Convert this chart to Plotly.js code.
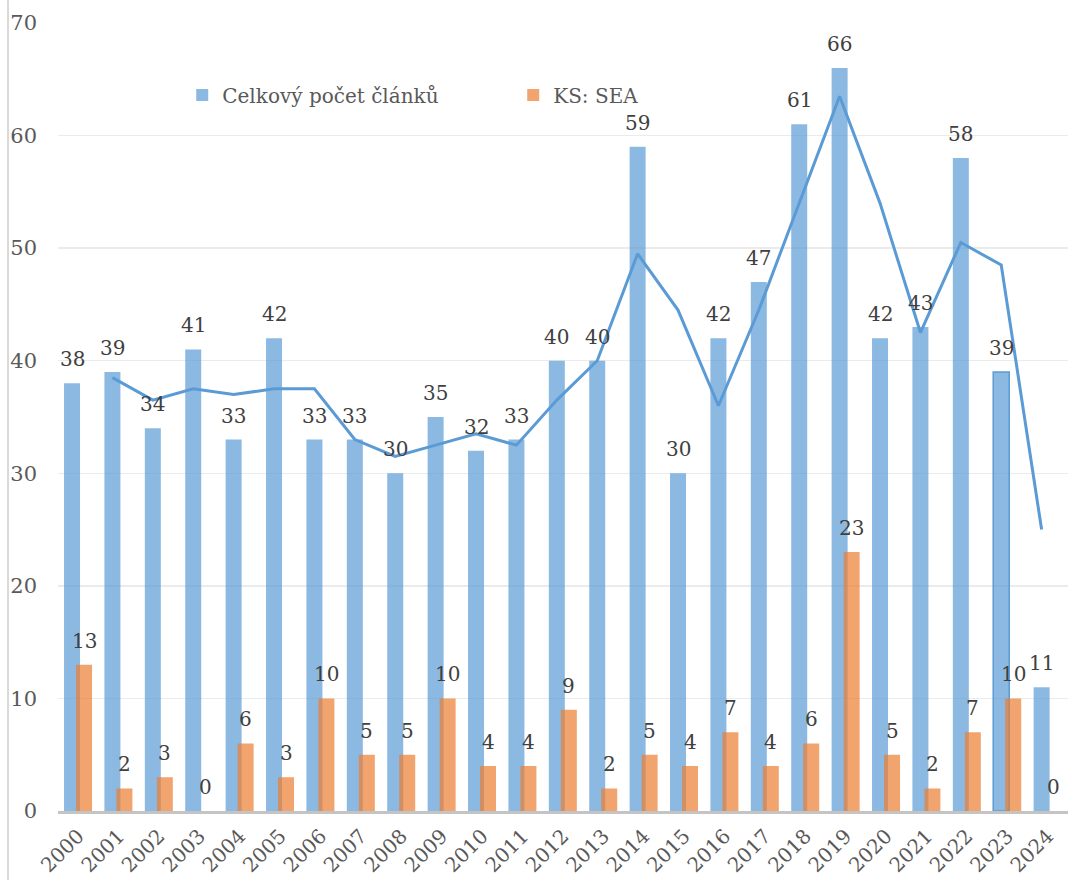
<!DOCTYPE html>
<html>
<head>
<meta charset="utf-8">
<script src="https://cdn.plot.ly/plotly-3.0.1.min.js"></script>
<style>html,body{margin:0;padding:0;background:#fff;}#chart{width:1068px;height:880px;}</style>
</head>
<body>
<div id="chart"></div>
<script>
const years = ['2000','2001','2002','2003','2004','2005','2006','2007','2008','2009','2010','2011','2012','2013','2014','2015','2016','2017','2018','2019','2020','2021','2022','2023','2024'];
const totalArticles = [38,39,34,41,33,42,33,33,30,35,32,33,40,40,59,30,42,47,61,66,42,43,58,39,11];
const ksSea = [13,2,3,0,6,3,10,5,5,10,4,4,9,2,5,4,7,4,6,23,5,2,7,10,0];
const trendLine = [null,38.5,36.5,37.5,37,37.5,37.5,33,31.5,32.5,33.5,32.5,36.5,40,49.5,44.5,36,44.5,54,63.5,54,42.5,50.5,48.5,25];
const seriesNames = ['Celkový počet článků','KS: SEA'];

const idx = years.map((y,i)=>i);
const BLUE_OFF = -0.351, ORANGE_OFF = -0.054, BW = 0.396;
const blueCenter = idx.map(i=>i+BLUE_OFF+BW/2);
const orangeCenter = idx.map(i=>i+ORANGE_OFF+BW/2);
const serif = 'DejaVu Serif';
const FS = 20;

const blueLineColors = idx.map(i=> years[i]==='2023' ? '#5b9bd5' : 'rgba(0,0,0,0)');
const blueLineWidths = idx.map(i=> years[i]==='2023' ? 1.5 : 0);

const traces = [
  {type:'bar', name:seriesNames[0], x:idx, y:totalArticles, width:BW, offset:BLUE_OFF,
   marker:{color:'rgba(91,155,213,0.7)', line:{color:blueLineColors, width:blueLineWidths}}, hoverinfo:'skip'},
  {type:'bar', name:seriesNames[1], x:idx, y:ksSea, width:BW, offset:ORANGE_OFF,
   marker:{color:'rgba(237,125,49,0.7)', line:{width:0}}, hoverinfo:'skip'},
  {type:'scatter', mode:'lines', x:blueCenter, y:trendLine, showlegend:false,
   line:{color:'#5b9bd5', width:3}, connectgaps:false, hoverinfo:'skip'}
];

const annotations = [];
idx.forEach(i=>{
  annotations.push({x:blueCenter[i], y:totalArticles[i], xref:'x', yref:'y', text:String(totalArticles[i]),
    showarrow:false, yanchor:'bottom', xanchor:'center', yshift:10, font:{family:serif, size:FS, color:'#404040'}});
  annotations.push({x:orangeCenter[i], y:ksSea[i], xref:'x', yref:'y', text:String(ksSea[i]),
    showarrow:false, yanchor:'bottom', xanchor:'center', yshift:10, font:{family:serif, size:FS, color:'#404040'}});
});

const layout = {
  width:1068, height:880,
  margin:{l:58, r:0, t:23, b:69, pad:0},
  paper_bgcolor:'#ffffff', plot_bgcolor:'#ffffff',
  font:{family:serif},
  barmode:'overlay',
  showlegend:true,
  legend:{orientation:'h', x:0.123, y:0.9086, xanchor:'left', yanchor:'middle',
    font:{family:serif, size:FS, color:'#595959'}, bgcolor:'rgba(0,0,0,0)',
    entrywidth:286, entrywidthmode:'pixels', itemclick:false},
  xaxis:{range:[-0.5,24.5], tickvals:idx, ticktext:years, tickangle:-45,
    tickfont:{family:serif, size:FS, color:'#595959'}, showgrid:false, zeroline:false,
    showline:true, linecolor:'#c4c4c4', linewidth:2.5, ticks:'', ticklabelstandoff:3, fixedrange:true},
  yaxis:{range:[0,70], dtick:10, tick0:0, showgrid:true, gridcolor:'#ebebeb', gridwidth:1.5,
    zeroline:false, showline:false, ticks:'', ticklabelstandoff:20,
    tickfont:{family:serif, size:FS+1, color:'#595959'}, fixedrange:true},
  annotations:annotations,
  shapes:[{type:'line', xref:'paper', yref:'paper', x0:-0.0495, x1:-0.0495, y0:-0.1, y1:1.05,
    line:{color:'#d9d9d9', width:2}}]
};

Plotly.newPlot('chart', traces, layout, {displayModeBar:false, staticPlot:true});
</script>
</body>
</html>
